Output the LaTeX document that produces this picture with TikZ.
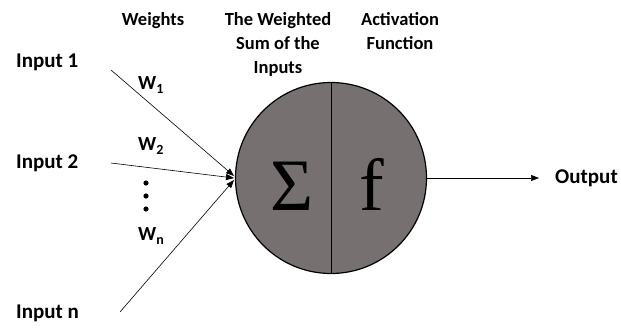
\documentclass[tikz,border=0pt]{standalone}
\usepackage{fontspec}
\setmainfont{Carlito}
\newfontfamily\greekserif{Liberation Serif}
\usetikzlibrary{arrows.meta, positioning}
\definecolor{neurongray}{RGB}{118,112,112}

\begin{document}
\begin{tikzpicture}[
  x=1pt, y=-1pt,
  label/.style={font=\fontsize{21}{24}\selectfont\bfseries, inner sep=0pt},
  head/.style={font=\fontsize{18.5}{24}\selectfont\bfseries, align=center, inner sep=0pt},
  wlabel/.style={font=\fontsize{20}{22}\selectfont\bfseries, inner sep=0pt},
  glyph/.style={font=\greekserif\fontsize{74}{74}\selectfont, inner sep=0pt},
  neuron/.style={circle, draw=black, line width=1.2pt, fill=neurongray, minimum size=191pt, inner sep=0pt},
  link/.style={line width=0.6pt, -{Triangle[length=8pt,width=6pt]}}
]
  \useasboundingbox (0,0) rectangle (621,327);

  % headings
  \node[head] (hweights) at (153,21) {Weights};
  \node[head, anchor=north] (hsum) at (278,12) {The Weighted\\Sum of the\\Inputs};
  \node[head, anchor=north] (hact) at (400,12) {Activation\\Function};

  % neuron
  \node[neuron] (cell) at (331,178) {};
  \draw[line width=0.6pt] (cell.north) -- (cell.south);
  \node[glyph, anchor=base] (sigma) at (292,210) {Σ};
  \node[glyph, anchor=base] (func) at (372,210) {f};

  % inputs
  \node[label, anchor=west] (in1) at (16,62) {Input 1};
  \node[label, anchor=west] (in2) at (16,163) {Input 2};
  \node[label, anchor=west] (inn) at (16,313) {Input n};
  \coordinate (s1) at (111,70);
  \coordinate (s2) at (111,163);
  \coordinate (sn) at (120,312);
  \coordinate (t1) at (234,176);
  \coordinate (t2) at (234,178);
  \coordinate (tn) at (234,180);
  \draw[link] (s1) -- (t1);
  \draw[link] (s2) -- (t2);
  \draw[link] (sn) -- (tn);

  % weights
  \node[wlabel, anchor=west] (w1) at (138,85) {W\textsubscript{1}};
  \node[wlabel, anchor=west] (w2) at (138,146) {W\textsubscript{2}};
  \node[wlabel, anchor=west] (wn) at (138,236) {W\textsubscript{n}};
  \foreach \y in {183,196,209}
    \fill (146,\y) circle (2.6pt);

  % output
  \node[label, anchor=west] (out) at (555,178) {Output};
  \draw[link] (cell.east) -- (539,178);
\end{tikzpicture}
\end{document}
